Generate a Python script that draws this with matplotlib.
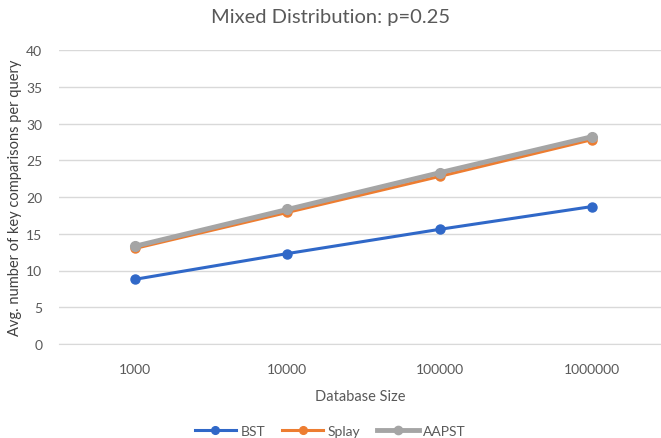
import matplotlib
matplotlib.use("Agg")
import matplotlib.pyplot as plt

sizes = ["1000", "10000", "100000", "1000000"]
bst = [8.8, 12.3, 15.6, 18.7]
splay = [13.0, 17.9, 22.8, 27.8]
aapst = [13.3, 18.3, 23.3, 28.2]

plt.rcParams['font.family'] = ['Lato', 'DejaVu Sans']

fig = plt.figure(figsize=(6.61, 4.39), dpi=100)
ax = fig.add_axes([58.8/661, 1-345/439, 1-58.8/661, (345-51)/439])

x = list(range(len(sizes)))
ax.plot(x, bst, color='#3068C8', lw=2.2, marker='o', ms=6.5, label='BST', zorder=3)
ax.plot(x, splay, color='#ED7D31', lw=2.2, marker='o', ms=6.5, label='Splay', zorder=4)
ax.plot(x, aapst, color='#A5A5A5', lw=3.5, marker='o', ms=7, label='AAPST', zorder=5)

ax.set_ylim(0, 40)
ax.set_yticks(range(0, 41, 5))
ax.set_xlim(-0.5, (661-135)/152.3)
ax.set_xticks(x)
ax.set_xticklabels(sizes)
ax.grid(axis='y', color='#D9D9D9', lw=1)
ax.set_axisbelow(True)
for s in ['top', 'right', 'left']:
    ax.spines[s].set_visible(False)
ax.spines['bottom'].set_color('#D9D9D9')
ax.tick_params(axis='both', length=0, colors='#595959', labelsize=10)
ax.tick_params(axis='x', pad=14)
ax.tick_params(axis='y', pad=12)

ax.set_xlabel('Database Size', color='#595959', fontsize=10.5, labelpad=10)
ax.set_ylabel('Avg. number of key comparisons per query', color='#404040', fontsize=10.5,
              va='center')
ax.yaxis.set_label_coords((15 - 58.8) / (661 - 58.8), 0.5)
fig.text(0.5, 1-17/439, 'Mixed Distribution: p=0.25', ha='center', va='center', fontsize=14.5, color='#595959')

fig.legend(loc='center', bbox_to_anchor=(330/661, 1-432/439), ncol=3, frameon=False,
           fontsize=10, handlelength=3, columnspacing=1.2, handletextpad=0.3, labelcolor='#595959',
           markerscale=0.85)

fig.savefig('out.png', dpi=100)
